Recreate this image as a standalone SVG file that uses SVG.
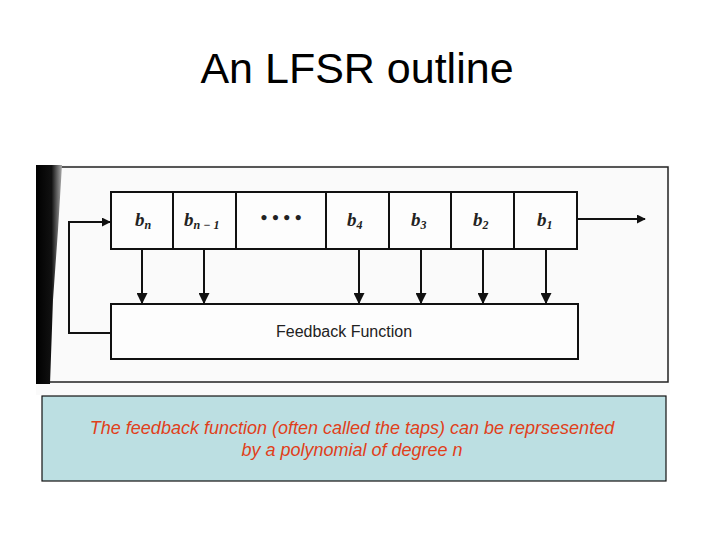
<svg xmlns="http://www.w3.org/2000/svg" width="720" height="540" viewBox="0 0 720 540">
<style>
.ln{stroke:#111;stroke-width:2;fill:none}
.box{stroke:#111;stroke-width:2;fill:#fdfdfd}
.cell{font-family:"Liberation Serif",serif;font-style:italic;font-weight:bold;font-size:19px;fill:#222}
.sub{font-size:12px}
.note{font-family:"Liberation Sans",Arial,sans-serif;font-style:italic;font-size:18px;fill:#e0401a}
</style>
<defs>
<marker id="ah" viewBox="0 0 10 10" refX="9" refY="5" markerWidth="9" markerHeight="9" markerUnits="userSpaceOnUse" orient="auto">
<path d="M0,0 L10,5 L0,10 z" fill="#111"/>
</marker>
<marker id="ahd" viewBox="0 0 10 10" refX="9" refY="5" markerWidth="11" markerHeight="11" markerUnits="userSpaceOnUse" orient="auto">
<path d="M0,0 L10,5 L0,10 z" fill="#111"/>
</marker>
<linearGradient id="edge" x1="0" y1="0" x2="1" y2="0">
<stop offset="0" stop-color="#000"/>
<stop offset="0.6" stop-color="#111"/>
<stop offset="1" stop-color="#aaa"/>
</linearGradient>
</defs>
<rect width="720" height="540" fill="#fff"/>
<text x="357" y="83" font-family="Liberation Sans,Arial,sans-serif" font-size="43" text-anchor="middle" fill="#000">An LFSR outline</text>

<g id="scan">
<rect x="36" y="165" width="634" height="230" fill="#fafafa"/>
<polyline points="44,167 668,167 668,382 44,382" fill="none" stroke="#222" stroke-width="1.5"/>
<polygon points="36,165 62,165 58,230 53,300 50,384 36,384" fill="url(#edge)"/>
</g>

<g id="register">
<rect class="box" x="111" y="192" width="466" height="57"/>
<line class="ln" x1="173" y1="192" x2="173" y2="249"/>
<line class="ln" x1="236" y1="192" x2="236" y2="249"/>
<line class="ln" x1="326" y1="192" x2="326" y2="249"/>
<line class="ln" x1="389" y1="192" x2="389" y2="249"/>
<line class="ln" x1="451" y1="192" x2="451" y2="249"/>
<line class="ln" x1="514" y1="192" x2="514" y2="249"/>
</g>
<g id="cell-bn"><text class="cell" x="135" y="226">b<tspan class="sub" dy="3">n</tspan></text></g>
<g id="cell-bn1"><text class="cell" x="184" y="226">b<tspan class="sub" dy="3">n − 1</tspan></text></g>
<g id="cell-dots"><text class="cell" x="281" y="224" text-anchor="middle" font-size="20">• • • •</text></g>
<g id="cell-b4"><text class="cell" x="347" y="226">b<tspan class="sub" dy="3">4</tspan></text></g>
<g id="cell-b3"><text class="cell" x="411" y="226">b<tspan class="sub" dy="3">3</tspan></text></g>
<g id="cell-b2"><text class="cell" x="473" y="226">b<tspan class="sub" dy="3">2</tspan></text></g>
<g id="cell-b1"><text class="cell" x="537" y="226">b<tspan class="sub" dy="3">1</tspan></text></g>

<g id="feedback">
<rect class="box" x="111" y="304" width="467" height="55"/>
<text x="344" y="337" font-family="Liberation Sans,Arial,sans-serif" font-size="16" text-anchor="middle" fill="#222">Feedback Function</text>
</g>

<g id="connectors">
<line class="ln" x1="142" y1="249" x2="142" y2="303" marker-end="url(#ahd)"/>
<line class="ln" x1="204" y1="249" x2="204" y2="303" marker-end="url(#ahd)"/>
<line class="ln" x1="359" y1="249" x2="359" y2="303" marker-end="url(#ahd)"/>
<line class="ln" x1="421" y1="249" x2="421" y2="303" marker-end="url(#ahd)"/>
<line class="ln" x1="483" y1="249" x2="483" y2="303" marker-end="url(#ahd)"/>
<line class="ln" x1="546" y1="249" x2="546" y2="303" marker-end="url(#ahd)"/>
<line class="ln" x1="577" y1="219" x2="645" y2="219" stroke-width="1.5" marker-end="url(#ah)"/>
<polyline class="ln" points="111,333 69,333 69,222 110,222" marker-end="url(#ah)"/>
</g>

<g id="note">
<rect x="42" y="396" width="624" height="85" fill="#bcdfe2" stroke="#111" stroke-width="1.2"/>
<text class="note" x="352" y="434" text-anchor="middle">The feedback function (often called the taps) can be reprsesented</text>
<text class="note" x="352" y="456" text-anchor="middle">by a polynomial of degree n</text>
</g>
</svg>
